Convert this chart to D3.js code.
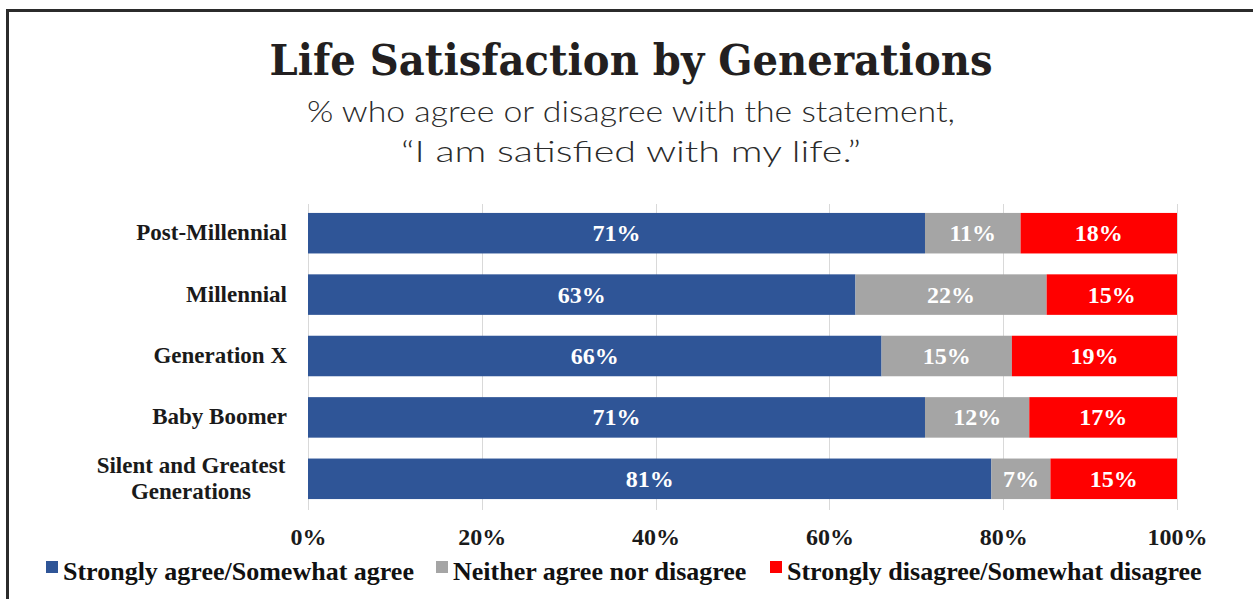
<!DOCTYPE html>
<html>
<head>
<meta charset="utf-8">
<script src="https://cdn.jsdelivr.net/npm/d3@7"></script>
<style>
  html, body { margin: 0; padding: 0; background: #fff; }
  svg { display: block; }
</style>
</head>
<body>
<svg id="chart" width="1253" height="599"></svg>
<script>
// Survey results: share of each generation agreeing / neutral / disagreeing
const generations = ["Post-Millennial", "Millennial", "Generation X", "Baby Boomer", "Silent and Greatest Generations"];
const agree    = [71, 63, 66, 71, 81];
const neither  = [11, 22, 15, 12, 7];
const disagree = [18, 15, 19, 17, 15];
const seriesNames = ["Strongly agree/Somewhat agree", "Neither agree nor disagree", "Strongly disagree/Somewhat disagree"];
const seriesKeys = ["agree", "neither", "disagree"];
const seriesColors = ["#2F5597", "#A5A5A5", "#FF0000"];
const tickValues = [0, 0.2, 0.4, 0.6, 0.8, 1];

const rows = generations.map((g, i) => ({ gen: g, agree: agree[i], neither: neither[i], disagree: disagree[i] }));

const svg = d3.select("#chart");
const W = 1253, H = 599;
const serif = "'Liberation Serif', 'Times New Roman', serif";

// Outer frame (runs off the right and bottom edges)
svg.append("rect")
  .attr("x", 7.5).attr("y", 10.5)
  .attr("width", W + 20).attr("height", H + 20)
  .attr("fill", "#fff").attr("stroke", "#2b2b2b").attr("stroke-width", 3);

// Title and subtitle
svg.append("text")
  .attr("x", 631).attr("y", 75)
  .attr("text-anchor", "middle")
  .attr("font-family", "'DejaVu Serif', serif")
  .attr("font-weight", "bold")
  .attr("font-size", 42)
  .attr("fill", "#231f20")
  .attr("textLength", 723).attr("lengthAdjust", "spacingAndGlyphs")
  .text("Life Satisfaction by Generations");

const sub = svg.append("text")
  .attr("text-anchor", "middle")
  .attr("font-family", "Lato, 'Open Sans', sans-serif")
  .attr("font-weight", 300)
  .attr("font-size", 29)
  .attr("fill", "#2b2b2b");
sub.append("tspan").attr("x", 631).attr("y", 122)
  .attr("textLength", 648).attr("lengthAdjust", "spacingAndGlyphs")
  .text("% who agree or disagree with the statement,");
sub.append("tspan").attr("x", 631).attr("y", 162)
  .attr("textLength", 460).attr("lengthAdjust", "spacingAndGlyphs")
  .text("\u201cI am satisfied with my life.\u201d");

// Scales
const x = d3.scaleLinear().domain([0, 1]).range([308, 1177]);
const y = d3.scaleBand().domain(generations).range([202.5, 509.5]).paddingInner(0.34).paddingOuter(0.17);

const stack = d3.stack().keys(seriesKeys).offset(d3.stackOffsetExpand);
const layers = stack(rows);

// Vertical gridlines
svg.append("g")
  .selectAll("line")
  .data(tickValues)
  .join("line")
  .attr("x1", d => Math.round(x(d)) + 0.5).attr("x2", d => Math.round(x(d)) + 0.5)
  .attr("y1", 204).attr("y2", 510)
  .attr("stroke", "#d9d9d9").attr("stroke-width", 1);

// Stacked bars
const layerG = svg.append("g")
  .selectAll("g")
  .data(layers)
  .join("g")
  .attr("fill", (d, i) => seriesColors[i]);

layerG.selectAll("rect")
  .data(d => d)
  .join("rect")
  .attr("x", d => x(d[0]))
  .attr("width", d => x(d[1]) - x(d[0]))
  .attr("y", d => y(d.data.gen))
  .attr("height", y.bandwidth());

// Value labels inside each segment
layerG.selectAll("text")
  .data((layer) => layer.map(d => ({ d, key: layer.key })))
  .join("text")
  .attr("x", o => (x(o.d[0]) + x(o.d[1])) / 2)
  .attr("y", o => y(o.d.data.gen) + y.bandwidth() / 2 + 8)
  .attr("text-anchor", "middle")
  .attr("font-family", serif)
  .attr("font-weight", "bold")
  .attr("font-size", 24)
  .attr("fill", "#fff")
  .text(o => o.d.data[o.key] + "%");

// Category labels
generations.forEach(g => {
  const cy = y(g) + y.bandwidth() / 2;
  if (g === "Silent and Greatest Generations") {
    const t = svg.append("text")
      .attr("text-anchor", "middle")
      .attr("font-family", serif).attr("font-weight", "bold")
      .attr("font-size", 23).attr("fill", "#1a1a1a");
    t.append("tspan").attr("x", 191).attr("y", cy - 6).text("Silent and Greatest");
    t.append("tspan").attr("x", 191).attr("y", cy + 20).text("Generations");
  } else {
    svg.append("text")
      .attr("x", 287).attr("y", cy + 7)
      .attr("text-anchor", "end")
      .attr("font-family", serif).attr("font-weight", "bold")
      .attr("font-size", 23).attr("fill", "#1a1a1a")
      .text(g);
  }
});

// X axis
const xAxis = d3.axisBottom(x).tickValues(tickValues).tickFormat(d3.format(".0%")).tickSize(0).tickPadding(0);
const ax = svg.append("g").attr("transform", "translate(0,528)").call(xAxis);
ax.select(".domain").remove();
ax.selectAll("text")
  .attr("dy", "0.71em")
  .attr("font-family", serif).attr("font-weight", "bold")
  .attr("font-size", 24).attr("fill", "#1a1a1a");

// Legend
const legendX = [46, 436, 770];
const lg = svg.append("g")
  .selectAll("g")
  .data(seriesNames)
  .join("g")
  .attr("transform", (d, i) => `translate(${legendX[i]},571)`);
lg.append("rect").attr("x", 0).attr("y", -10).attr("width", 12).attr("height", 12)
  .attr("fill", (d, i) => seriesColors[i]);
lg.append("text").attr("x", 17).attr("y", 0).attr("dy", "0.35em")
  .attr("font-family", serif).attr("font-weight", "bold")
  .attr("font-size", 26).attr("fill", "#111")
  .text(d => d);
</script>
</body>
</html>
